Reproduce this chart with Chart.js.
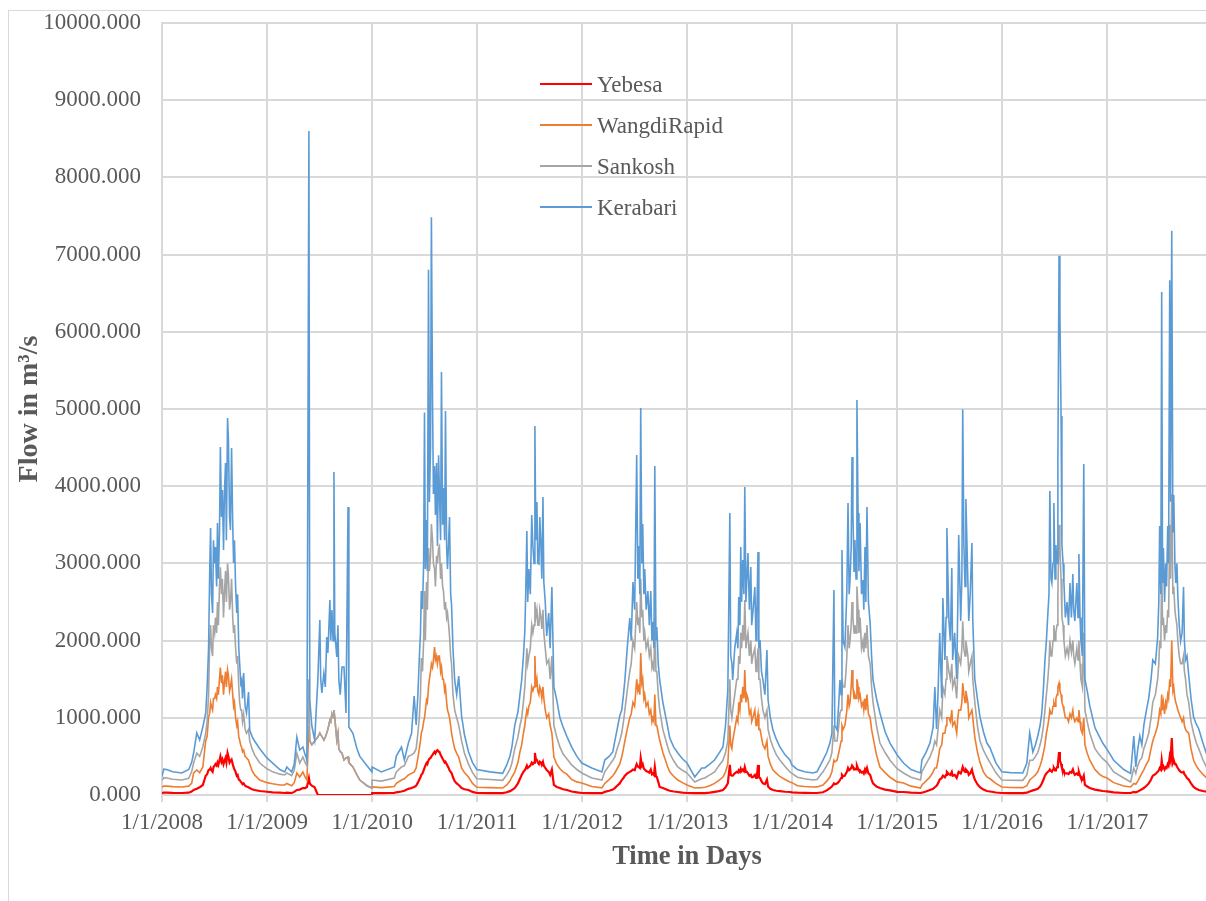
<!DOCTYPE html>
<html>
<head>
<meta charset="utf-8">
<title>Flow</title>
<script src="https://cdn.jsdelivr.net/npm/chart.js@4.4.1/dist/chart.umd.min.js"></script>
<style>
html,body{margin:0;padding:0;background:#fff;overflow:hidden;width:1206px;height:901px;}
#frame{position:absolute;left:8px;top:10px;width:1300px;height:1000px;border:1px solid #d9d9d9;}
#wrap{position:absolute;left:0;top:0;width:1220px;height:901px;}
.legend{position:absolute;left:540px;top:64px;font-family:"Liberation Serif","Times New Roman",serif;font-size:23px;color:#595959;}
.legend div{position:relative;height:41px;line-height:41px;padding-left:57px;white-space:nowrap;}
.legend span{position:absolute;left:0;top:19px;width:52px;height:2px;display:block;}
</style>
</head>
<body>
<div id="frame"></div>
<div id="wrap"><canvas id="flowChart" width="1220" height="901"></canvas></div>
<div class="legend">
  <div><span style="background:#ff0000"></span>Yebesa</div>
  <div><span style="background:#ed7d31;height:1.5px"></span>WangdiRapid</div>
  <div><span style="background:#a5a5a5;height:1.5px"></span>Sankosh</div>
  <div><span style="background:#5b9bd5;height:1.5px"></span>Kerabari</div>
</div>
<script>
// day number counted from 1/1/2008, one line per year
const days = [
  0,6,16,37,69,93,103,110,121,131,142,152,157,162,166,169,172,176,179,183,186,190,193,196,200,203,207,210,214,217,221,224,228,231,235,238,242,246,249,252,256,260,263,267,270,274,277,280,284,289,294,301,305,313,322,340,365,
  385,410,427,434,451,460,469,479,490,498,504,511,514,521,531,542,549,552,556,563,568,573,577,584,587,591,595,598,601,608,612,615,620,626,633,640,647,650,664,678,688,713,730,
  731,763,808,815,833,843,857,868,877,884,890,895,899,902,906,910,913,916,920,923,927,930,934,937,941,944,948,951,955,958,962,965,969,972,976,979,983,986,990,993,997,1000,1004,1007,1012,1018,1025,1032,1042,1052,1066,1080,1095,
  1141,1185,1199,1210,1217,1227,1238,1245,1251,1257,1262,1265,1269,1272,1276,1281,1286,1290,1294,1297,1300,1304,1307,1311,1314,1318,1321,1325,1328,1333,1338,1345,1350,1356,1363,1373,1384,1395,1408,1425,1443,1460,
  1495,1530,1540,1555,1568,1575,1583,1592,1599,1605,1610,1618,1627,1632,1638,1644,1651,1655,1658,1662,1665,1669,1672,1676,1679,1684,1690,1695,1700,1704,1707,1711,1714,1718,1721,1726,1731,1742,1759,1766,1780,1794,1810,1826,
  1853,1877,1888,1905,1922,1937,1951,1960,1968,1975,1978,1982,1985,1992,1999,2003,2006,2010,2013,2016,2020,2024,2027,2031,2034,2038,2043,2048,2051,2055,2062,2066,2069,2073,2076,2080,2085,2090,2097,2104,2108,2116,2125,2137,2149,2167,2184,2191,
  2210,2235,2264,2278,2299,2312,2323,2330,2337,2340,2348,2354,2358,2362,2365,2369,2375,2379,2382,2386,2390,2393,2397,2400,2403,2407,2410,2414,2417,2421,2424,2428,2433,2438,2441,2445,2448,2452,2457,2463,2468,2473,2485,2497,2515,2532,2557,
  2579,2605,2638,2643,2657,2671,2682,2688,2694,2699,2705,2712,2716,2723,2727,2730,2737,2742,2747,2750,2757,2764,2768,2771,2778,2782,2785,2789,2793,2796,2803,2806,2811,2817,2820,2827,2836,2845,2857,2869,2880,2900,2921,
  2950,2994,3008,3018,3029,3038,3046,3054,3060,3066,3071,3076,3081,3085,3088,3092,3095,3099,3102,3106,3109,3113,3116,3120,3123,3127,3130,3134,3137,3142,3148,3153,3158,3163,3168,3171,3175,3182,3186,3189,3193,3196,3201,3206,3210,3218,3227,3245,3260,3272,3287,
  3310,3345,3369,3380,3387,3394,3401,3408,3415,3424,3432,3440,3446,3455,3463,3467,3470,3474,3477,3480,3483,3487,3491,3494,3498,3501,3505,3508,3512,3516,3519,3523,3526,3530,3533,3538,3543,3548,3553,3556,3560,3565,3571,3579,3588,3597,3606,3620,3634,3652
];

const yebesa = [
  25,30,30,27,26,30,45,65,80,100,130,250,270,324,330,350,320,300,360,380,400,380,420,390,450,500,430,460,400,440,480,420,544,500,420,440,460,400,360,330,300,250,260,200,194,170,160,140,150,120,110,100,90,75,65,52,42,
  35,30,26,30,26,40,65,70,90,90,104,220,150,120,100,0,0,0,0,0,0,0,0,0,0,0,0,0,0,0,0,0,0,0,0,0,0,0,0,0,0,0,0,
  26,25,28,35,45,55,80,90,104,120,160,200,230,260,280,320,350,380,414,400,450,470,480,500,520,540,560,540,570,580,560,560,520,500,470,450,420,430,400,380,350,320,300,285,230,180,150,130,90,75,65,40,26,
  25,24,35,50,65,90,150,210,260,300,324,340,380,350,363,380,420,400,420,544,470,453,420,400,430,420,390,430,380,350,324,300,260,330,130,104,90,75,65,45,35,26,
  25,24,40,55,70,90,120,150,194,220,250,280,300,310,330,320,400,370,363,350,479,380,400,340,330,310,300,290,330,270,280,260,363,240,233,170,104,90,65,55,45,39,30,26,
  24,24,25,30,40,50,65,100,150,389,260,250,250,280,300,290,320,300,340,310,330,310,363,300,300,280,250,260,230,230,260,220,240,389,230,220,180,150,140,200,110,80,65,55,50,42,39,35,
  30,28,26,26,35,60,90,110,150,140,150,170,194,220,260,240,250,280,300,350,320,330,350,380,360,330,340,330,380,340,320,320,290,300,280,330,300,350,280,260,200,150,110,90,70,60,40,
  39,30,26,30,45,65,80,100,120,150,200,220,250,230,260,300,270,260,300,250,260,220,270,300,280,320,363,320,300,330,300,260,280,330,280,200,140,100,70,52,45,32,26,
  25,25,30,45,60,70,80,110,150,200,250,280,300,310,330,310,300,330,350,320,330,360,400,557,450,400,350,330,300,280,280,270,300,290,330,290,260,280,260,300,250,220,200,250,130,110,90,70,60,52,48,
  35,26,26,40,35,45,60,75,90,120,150,200,250,270,300,320,350,330,450,350,370,330,360,350,400,380,500,450,738,420,450,400,400,370,350,320,300,290,300,270,250,220,200,150,104,80,65,52,42,35
];

const wangdiRapid = [
  100,117,115,108,104,115,150,285,324,290,363,700,760,1010,1060,1200,1150,1100,1250,1250,1300,1250,1400,1300,1500,1650,1450,1550,1300,1450,1600,1400,1620,1550,1350,1400,1500,1300,1150,1200,1000,900,950,750,712,640,620,560,580,500,480,450,400,320,260,194,160,
  145,130,130,150,120,160,285,233,298,230,194,900,700,650,700,750,803,780,760,712,750,803,850,971,950,1050,1000,1100,1000,712,800,600,560,544,453,480,492,420,363,260,194,120,90,
  104,95,110,150,194,210,260,280,300,350,480,600,700,803,850,950,1000,1100,1230,1200,1400,1500,1600,1700,1650,1750,1917,1750,1800,1700,1800,1800,1600,1658,1500,1500,1350,1400,1200,1100,1050,1000,900,800,700,600,540,492,350,290,233,150,100,
  95,90,130,180,233,300,420,560,650,800,900,1000,1100,1050,1150,1200,1400,1350,1400,1800,1400,1500,1350,1300,1400,1350,1250,1400,1250,1100,1000,1050,900,800,492,400,340,300,270,200,170,155,
  110,92,150,200,250,285,340,400,492,600,700,850,1000,1050,1200,1150,1500,1350,1400,1300,1839,1450,1500,1250,1300,1150,1200,1050,1100,950,1000,950,1300,900,900,800,712,550,363,300,240,194,160,130,
  90,95,100,120,150,190,233,300,400,900,650,600,700,850,1000,950,1200,1100,1300,1200,1400,1250,1619,1200,1300,1250,1050,1100,950,1000,1100,900,950,1050,850,850,750,650,600,700,500,400,324,280,240,200,168,160,
  120,110,104,105,130,180,233,300,450,430,450,550,622,700,900,850,900,1000,1100,1300,1150,1200,1400,1619,1400,1250,1300,1250,1500,1400,1250,1300,1150,1200,1100,1250,1100,1300,1050,1000,850,750,520,363,290,230,170,
  155,115,90,130,180,233,300,350,350,450,600,650,800,800,900,1000,1000,950,1100,900,950,800,1000,1100,1100,1200,1450,1300,1200,1350,1200,1000,1050,1100,1000,750,560,420,300,233,210,150,104,
  98,95,120,194,230,260,300,380,450,550,650,800,900,1000,1100,1050,1050,1150,1200,1150,1250,1300,1400,1450,1350,1300,1200,1150,1100,1000,1000,950,1050,1000,1100,1000,950,1000,950,1100,950,850,800,1000,650,540,450,330,270,240,220,
  160,117,104,150,140,180,230,280,330,400,450,600,700,800,900,1000,1100,1050,1300,1100,1200,1050,1200,1150,1300,1250,1500,1400,2000,1350,1400,1250,1200,1150,1100,1050,1000,950,1000,900,850,820,800,600,450,380,330,270,220,180
];

const sankosh = [
  190,224,220,205,194,215,300,414,544,500,622,803,950,1300,2000,2200,1900,1800,2200,2100,2300,2100,2500,2200,2700,2950,2600,2800,2300,2600,2900,2500,3000,2850,2400,2500,2800,2300,2100,2200,1900,1700,1800,1400,1200,1100,1100,950,1050,850,800,850,700,600,520,414,340,
  300,270,259,285,250,320,544,414,492,420,380,1500,700,650,700,750,803,780,760,712,750,803,850,971,950,1050,1000,1100,1000,712,800,600,560,544,453,480,492,420,363,260,194,120,90,
  194,180,220,300,363,380,500,520,544,600,800,1000,1300,1774,1600,2000,2642,2000,2758,2400,3200,2900,3100,3510,3300,3000,2927,2700,3100,3000,3200,3225,2800,3000,2700,2642,2400,2500,2300,2357,2200,2060,1800,1700,1300,1100,1000,906,700,540,400,290,210,
  200,190,260,330,414,600,750,900,1000,1200,1400,1600,1900,1700,1800,1900,2200,2100,2200,2500,2300,2400,2200,2200,2400,2300,2150,2400,2100,1900,1700,1750,1500,1800,900,750,620,530,470,390,330,285,
  220,194,300,380,450,492,600,700,803,950,1100,1350,1600,1700,2000,1900,2500,2200,2300,2100,2800,2300,2400,2000,2100,1900,2000,1800,1900,1650,1700,1600,2300,1600,1600,1300,1100,850,622,540,440,363,320,285,
  168,210,220,260,300,380,450,550,700,1500,1100,1000,1100,1300,1500,1500,1800,1700,2100,1900,2200,2000,2525,1900,2000,2100,1800,2000,1700,1800,1900,1600,1700,1900,1500,1500,1250,1100,1000,1100,850,720,622,520,453,370,298,280,
  230,210,194,200,300,380,453,550,900,700,700,900,1062,1100,1500,1400,1400,1600,1800,2200,1900,2000,2200,2500,2300,2100,2200,2100,2700,2400,2100,2300,1900,2000,1850,2100,1900,2200,1800,1700,1400,1200,900,673,550,450,340,
  285,230,194,300,400,492,600,700,650,850,1100,1000,1400,1300,1500,1800,1600,1500,1700,1400,1500,1250,1600,1800,1700,1900,2250,1900,1800,2000,1800,1600,1700,1800,1500,1200,900,700,580,492,420,290,194,
  192,190,260,450,450,500,550,650,750,900,1100,1300,1500,1700,2000,1800,1800,2000,2200,2000,2100,2200,2600,3500,3200,2800,2300,2200,2000,1800,1900,1800,2000,1850,2000,1800,1700,1900,1750,2000,1700,1500,1400,2100,1100,950,800,600,520,470,420,
  300,220,168,350,280,380,450,480,600,700,800,1000,1200,1300,1500,1700,2000,1900,3000,2200,2300,2000,2200,2100,2400,2300,3500,2800,3900,2600,2700,2400,2300,2200,2000,1800,1700,1700,1800,1600,1500,1300,1200,950,800,680,600,460,350,300
];

const kerabari = [
  240,335,330,300,285,330,420,544,803,712,880,1062,1400,1900,2914,3458,2600,2357,3300,3000,3212,2700,3523,2800,3400,4508,3600,3950,3173,3900,4300,3300,4883,4598,3600,3432,4494,3500,3005,3300,2700,2357,2600,1900,1710,1450,1490,1250,1580,1150,1062,1334,842,760,700,600,480,
  414,330,298,363,298,400,750,583,622,520,453,8600,1230,900,712,1490,2266,1500,1321,1580,1400,2046,1839,2525,2000,2396,2000,4184,2098,1787,2200,1490,1300,1658,1658,1062,3730,881,800,600,500,380,300,
  363,298,363,505,622,453,673,800,1282,906,1300,1774,2100,2642,2409,3000,4953,2927,3561,2900,6804,3794,4500,7485,5069,3900,4260,3626,4300,3225,4400,3911,3300,5478,3500,3976,3300,4973,3200,2927,3300,3600,2600,2473,1900,1490,1300,1541,1023,780,560,420,330,
  300,280,389,500,622,906,1075,1300,1490,1800,2124,2600,3419,2500,2927,2600,3626,3225,3000,4779,3300,3794,3000,2991,3600,3225,2800,3859,2758,2500,2060,2357,1900,2694,1400,1230,1000,880,760,620,500,414,
  350,298,453,500,557,700,850,1023,1100,1300,1490,1900,2292,2000,2758,2400,4403,2800,3225,2600,5012,3000,3510,2600,2927,2400,2642,2200,2642,2000,2240,1900,4260,2000,2176,1700,1490,1200,880,738,620,544,470,414,
  233,350,350,400,453,540,622,900,1360,3652,1800,1710,1490,1900,2098,1900,2564,2200,3212,2500,3044,2600,3989,2500,2784,3134,2400,2953,2200,2357,2694,2000,2357,3147,1900,2007,1600,1490,1300,1878,1230,1000,842,720,622,520,453,389,
  330,300,285,300,453,550,673,800,2655,900,842,1200,1490,1300,3173,2000,1917,2300,2655,3782,2600,2784,3200,4378,3652,2900,3302,2800,5115,3652,2900,3523,2600,2784,2400,3212,2500,3730,2500,2227,1800,1490,1250,1062,820,673,518,
  414,330,285,453,550,673,880,1399,855,1300,2098,1256,2551,1748,2300,3458,2253,2000,2940,1748,2100,1502,2500,3367,2253,2800,4998,3237,2700,3833,2745,2253,2600,3263,2253,1502,1250,1010,820,673,609,420,300,
  290,285,414,803,557,650,764,900,1062,1400,1748,2000,2344,2600,3937,2800,2745,3000,3782,2800,3237,3000,4325,6985,6240,4908,3237,3000,2745,2300,2499,2200,2745,2300,2862,2400,2253,2745,2300,3121,2300,1994,1800,4287,1502,1350,1153,870,760,673,590,
  450,330,280,764,363,600,764,650,906,1100,1256,1500,1748,1700,2046,2500,3484,2600,6514,2745,3200,2499,3000,2700,3484,3000,6669,3800,7309,3400,3885,3000,2745,3000,2590,2200,1994,2100,2694,2000,1748,1800,1554,1250,1010,920,855,680,520,450
];

const yearTicks = [0,366,731,1096,1461,1827,2192,2557,2922,3288];
const yearLabels = ['1/1/2008','1/1/2009','1/1/2010','1/1/2011','1/1/2012','1/1/2013','1/1/2014','1/1/2015','1/1/2016','1/1/2017'];

const serif = '"Liberation Serif","Times New Roman",serif';
const txtColor = '#595959';
const gridColor = '#d9d9d9';

function points(arr){
    return days.map((d,i)=>({x:d, y:arr[i]}));
}

new Chart(document.getElementById('flowChart'),{
    type:'line',
    data:{
        datasets:[
            {label:'Yebesa', data:points(yebesa), borderColor:'#ff0000', borderWidth:2.2, order:4},
            {label:'WangdiRapid', data:points(wangdiRapid), borderColor:'#ed7d31', borderWidth:1.6, order:3},
            {label:'Sankosh', data:points(sankosh), borderColor:'#a5a5a5', borderWidth:1.6, order:2},
            {label:'Kerabari', data:points(kerabari), borderColor:'#5b9bd5', borderWidth:1.6, order:1}
        ]
    },
    options:{
        responsive:false,
        animation:false,
        layout:{padding:{top:23,right:8,left:0,bottom:0}},
        elements:{point:{radius:0}, line:{tension:0, fill:false}},
        plugins:{legend:{display:false}, tooltip:{enabled:false}},
        scales:{
            x:{
                type:'linear', min:0, max:3652,
                afterBuildTicks:s=>{ s.ticks = yearTicks.map(v=>({value:v})); },
                afterFit:s=>{ s.height = 106; s.paddingLeft = 0; s.paddingRight = 0; },
                ticks:{
                    autoSkip:false, maxRotation:0, padding:7, color:txtColor,
                    font:{family:serif, size:23},
                    callback:(v,i)=>yearLabels[i]
                },
                grid:{color:gridColor, lineWidth:2, tickLength:7},
                border:{color:gridColor, width:2},
                title:{display:true, text:'Time in Days', color:txtColor,
                    font:{family:serif, size:26.5, weight:'bold'}, padding:{top:0,bottom:28}}
            },
            y:{
                min:0, max:10000,
                afterFit:s=>{ s.width = 162; s.paddingTop = 0; s.paddingBottom = 0; },
                ticks:{
                    stepSize:1000, padding:21, color:txtColor,
                    font:{family:serif, size:23},
                    callback:v=>v.toFixed(3)
                },
                grid:{color:gridColor, lineWidth:2, drawTicks:false},
                border:{color:gridColor, width:2},
                title:{display:true, text:'Flow in m³/s', color:txtColor,
                    font:{family:serif, size:28, weight:'bold'}, padding:{top:13,bottom:0}}
            }
        }
    }
});
</script>
</body>
</html>
